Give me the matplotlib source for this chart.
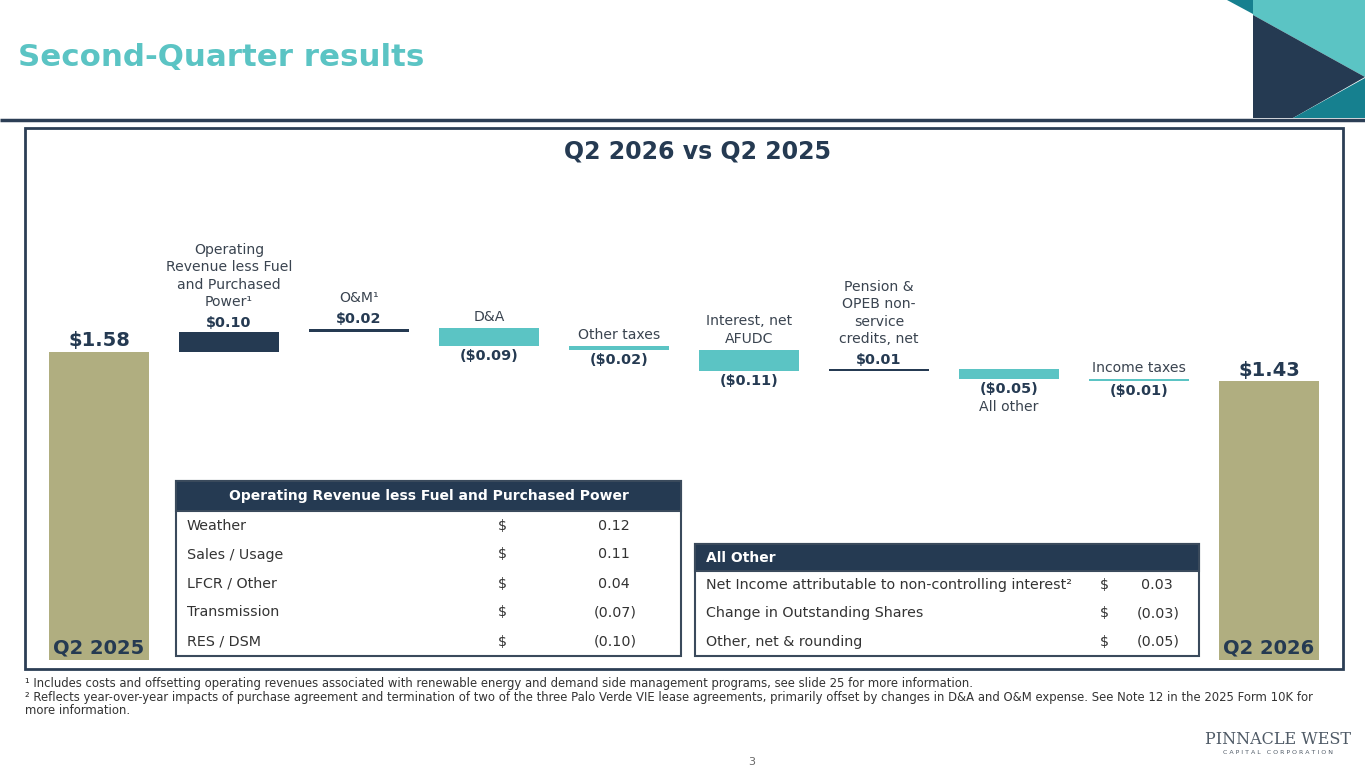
import matplotlib
matplotlib.use("Agg")
import matplotlib.pyplot as plt
from matplotlib.patches import Rectangle, Polygon

# ---- data -------------------------------------------------------------
categories = ["Q2 2025",
              "Operating\nRevenue less Fuel\nand Purchased\nPower\u00b9",
              "O&M\u00b9", "D&A", "Other taxes", "Interest, net\nAFUDC",
              "Pension &\nOPEB non-\nservice\ncredits, net",
              "All other", "Income taxes", "Q2 2026"]
values = [1.58, 0.10, 0.02, -0.09, -0.02, -0.11, 0.01, -0.05, -0.01, 1.43]
value_labels = ["$1.58", "$0.10", "$0.02", "($0.09)", "($0.02)", "($0.11)",
                "$0.01", "($0.05)", "($0.01)", "$1.43"]

rev_items = ["Weather", "Sales / Usage", "LFCR / Other", "Transmission", "RES / DSM"]
rev_values = ["0.12", "0.11", "0.04", "(0.07)", "(0.10)"]
other_items = ["Net Income attributable to non-controlling interest\u00b2",
               "Change in Outstanding Shares", "Other, net & rounding"]
other_values = ["0.03", "(0.03)", "(0.05)"]

footnotes = [
    "\u00b9 Includes costs and offsetting operating revenues associated with renewable energy and demand side management programs, see slide 25 for more information.",
    "\u00b2 Reflects year-over-year impacts of purchase agreement and termination of two of the three Palo Verde VIE lease agreements, primarily offset by changes in D&A and O&M expense. See Note 12 in the 2025 Form 10K for",
    "more information.",
]

NAVY = "#253a52"
TEAL = "#5bc4c4"
KHAKI = "#b0ae80"
DTEAL = "#16808f"
TXT = "#3a4450"

plt.rcParams["font.family"] = ["DejaVu Sans"]

W, H = 1365, 768
fig = plt.figure(figsize=(W / 100, H / 100), dpi=100)
fig.patch.set_facecolor("white")

# pixel overlay for slide decoration
ov = fig.add_axes([0, 0, 1, 1])
ov.set_xlim(0, W)
ov.set_ylim(H, 0)
ov.axis("off")

ov.text(18, 58, "Second-Quarter results", color=TEAL, fontsize=22.2,
        fontweight="bold", va="center", ha="left")
ov.plot([0, W], [120, 120], color="#2c3e55", lw=2.5, solid_capstyle="butt")
ov.add_patch(Polygon([(1253, 0), (1365, 0), (1365, 77), (1253, 15)], color=TEAL, lw=0))
ov.add_patch(Polygon([(1227, 0), (1253, 0), (1253, 14)], color=DTEAL, lw=0))
ov.add_patch(Polygon([(1253, 15), (1365, 77), (1293, 118), (1253, 118)], color=NAVY, lw=0))
ov.add_patch(Polygon([(1293, 118), (1365, 78), (1365, 118)], color=DTEAL, lw=0))
ov.add_patch(Rectangle((25, 128), 1318, 541, fill=False, ec="#2c3e55", lw=2))
ov.text(698, 152, "Q2 2026 vs Q2 2025", color=NAVY, fontsize=17,
        fontweight="bold", ha="center", va="center")

# ---- waterfall --------------------------------------------------------
px_per_dollar = 195
ax = fig.add_axes([34 / W, (H - 660) / H, 1300 / W, 3.0 * px_per_dollar / H])
ax.set_xlim(-0.5, len(values) - 0.5)
ax.set_ylim(0, 3.0)
ax.axis("off")

PT = 0.72  # points per pixel
LBL = 10.1
VAL = 10.4
running = 0.0
last = len(values) - 1
for i, (cat, v, lab) in enumerate(zip(categories, values, value_labels)):
    if i == 0 or i == last:
        bottom, height, color = 0.0, v, KHAKI
        running = v
    else:
        bottom = running if v > 0 else running + v
        height = abs(v)
        color = NAVY if v > 0 else TEAL
        running += v
    ax.bar(i, height, bottom=bottom, width=100 / 130, color=color, lw=0)
    top = bottom + height
    if i == 0 or i == last:
        ax.annotate(lab, (i, top), xytext=(0, 11 * PT), textcoords="offset points",
                    ha="center", va="center", fontsize=14, fontweight="bold", color=NAVY)
        ax.annotate(cat, (i, 0), xytext=(0, 12 * PT), textcoords="offset points",
                    ha="center", va="center", fontsize=14, fontweight="bold", color=NAVY)
    elif v > 0:
        ax.annotate(lab, (i, top), xytext=(0, 9 * PT), textcoords="offset points",
                    ha="center", va="center", fontsize=VAL, fontweight="bold", color=NAVY)
        ax.annotate(cat, (i, top), xytext=(0, 23 * PT), textcoords="offset points",
                    ha="center", va="bottom", fontsize=LBL, color=TXT, linespacing=1.33)
    else:
        ax.annotate(lab, (i, bottom), xytext=(0, -10 * PT), textcoords="offset points",
                    ha="center", va="center", fontsize=VAL, fontweight="bold", color=NAVY)
        if cat == "All other":
            ax.annotate(cat, (i, bottom), xytext=(0, -28 * PT), textcoords="offset points",
                        ha="center", va="center", fontsize=LBL, color=TXT)
        else:
            ax.annotate(cat, (i, top), xytext=(0, 4 * PT), textcoords="offset points",
                        ha="center", va="bottom", fontsize=LBL, color=TXT, linespacing=1.33)

# ---- tables -----------------------------------------------------------
def table(x0, x1, y0, head_h, row_h, title, items, vals, dollar_x, val_x, center_title):
    n = len(items)
    y1 = y0 + head_h + n * row_h
    ov.add_patch(Rectangle((x0, y0), x1 - x0, y1 - y0, fc="white", ec="#3a4a5c", lw=1.5, zorder=5))
    ov.add_patch(Rectangle((x0, y0), x1 - x0, head_h, fc=NAVY, ec="#3a4a5c", lw=1.5, zorder=6))
    tx = (x0 + x1) / 2 if center_title else x0 + 11
    ov.text(tx, y0 + head_h / 2, title, color="white", fontsize=10, fontweight="bold",
            ha="center" if center_title else "left", va="center", zorder=7)
    for k, (it, vl) in enumerate(zip(items, vals)):
        yc = y0 + head_h + (k + 0.5) * row_h
        ov.text(x0 + 11, yc, it, fontsize=10.3, color="#333333", va="center", zorder=7)
        ov.text(dollar_x, yc, "$", fontsize=10.3, color="#333333", va="center", zorder=7)
        # parenthesised values hang their ")" past the decimal column
        xr = val_x + 7 if vl.startswith("(") else val_x
        ov.text(xr, yc, vl, fontsize=10.3, color="#333333", va="center",
                ha="right", zorder=7)

table(176, 681, 481, 30, 29, "Operating Revenue less Fuel and Purchased Power",
      rev_items, rev_values, 498, 630, True)
table(695, 1199, 544, 27, 28.3, "All Other",
      other_items, other_values, 1100, 1173, False)

# ---- footnotes, logo, page number ------------------------------------
for k, line in enumerate(footnotes):
    ov.text(25, 684 + k * 13.5, line, fontsize=8.4, color="#333333", va="center")
ov.text(1278, 739, "PINNACLE WEST", family="DejaVu Serif", fontsize=11.5,
        color="#4f5a66", ha="center", va="center")
ov.text(1278, 753, "C A P I T A L   C O R P O R A T I O N", fontsize=4.5,
        color="#4f5a66", ha="center", va="center")
ov.text(752, 762, "3", fontsize=8, color="#666666", ha="center", va="center")

fig.savefig("out.png", dpi=100)
